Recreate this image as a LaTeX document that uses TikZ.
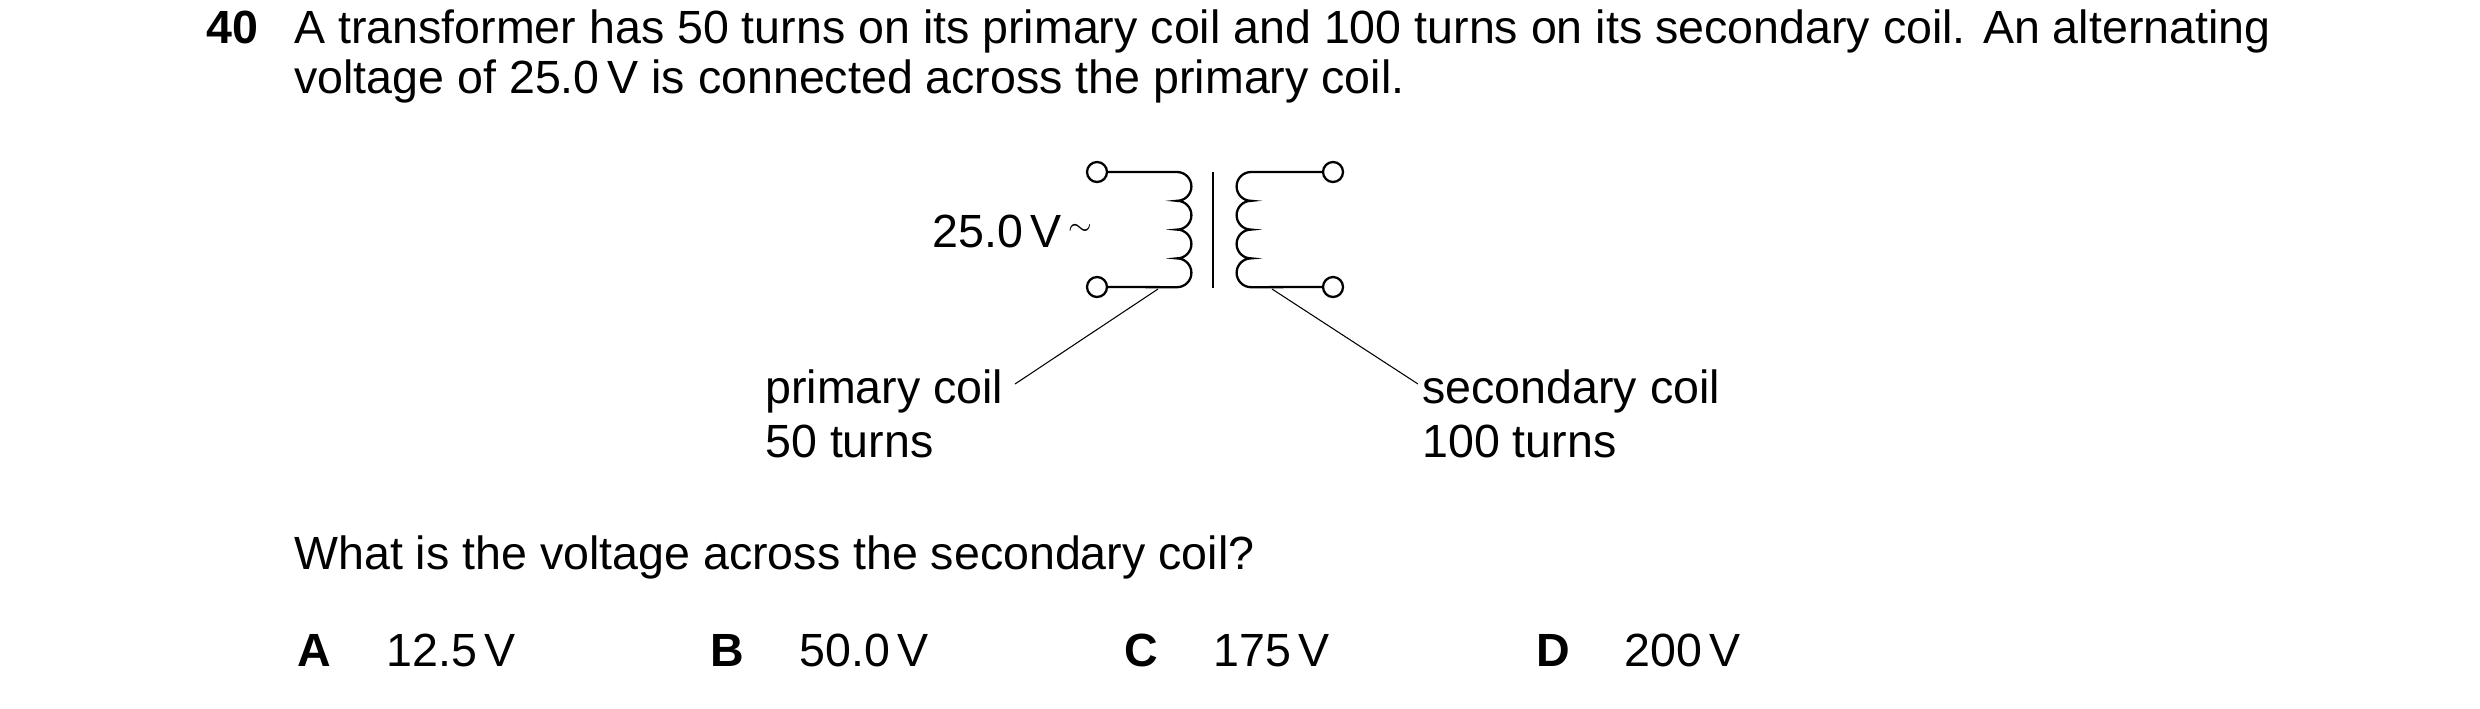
\documentclass[tikz,border=0pt]{standalone}
\usepackage{fontspec}
\setmainfont{Liberation Sans}
\usetikzlibrary{positioning}
\tikzset{
  txt/.style={anchor=base west, inner sep=0pt, font=\fontsize{26.5}{30}\selectfont},
  bold/.style={txt, font=\fontsize{26.5}{30}\selectfont\bfseries},
  term/.style={circle, draw, line width=1.3pt, fill=white, minimum size=0.4cm, inner sep=0pt},
  wire/.style={line width=1.3pt},
  lead/.style={line width=0.6pt}
}
\begin{document}
\begin{tikzpicture}[x=0.02cm, y=-0.02cm]
\useasboundingbox (0,0) rectangle (2480,708);
% question text
\node[bold] (num) at (206,43) {40};
\node[txt] (l1) at (294,43) {A transformer has 50 turns on its primary coil and 100 turns on its secondary coil. An alternating};
\node[txt] (l2) at (294,93) {voltage of 25.0\,V is connected across the primary coil.};
% transformer
\draw[wire] (1107,172) -- (1177,172) arc (90:-90:0.288cm) arc (90:-90:0.288cm) arc (90:-90:0.288cm) arc (90:-90:0.288cm) -- (1107,287);
\draw[wire] (1323,172) -- (1251,172) arc (90:270:0.288cm) arc (90:270:0.288cm) arc (90:270:0.288cm) arc (90:270:0.288cm) -- (1323,287);
\draw[wire] (1213,172) -- (1213,288);
\node[term] (p1) at (1097,172) {};
\node[term] (p2) at (1097,287) {};
\node[term] (s1) at (1333,172) {};
\node[term] (s2) at (1333,287) {};
\node[txt] (volt) at (932,247) {25.0\,V};
\node[anchor=west, inner sep=0pt, font=\LARGE] (ac) at (1068,230) {$\sim$};
\coordinate (pc) at (1158,289);
\coordinate (sc) at (1272,289);
% labels
\node[txt] (prim) at (765,403) {primary coil};
\node[txt] (primn) at (765,457) {50 turns};
\node[txt] (sec) at (1422,403) {secondary coil};
\node[txt] (secn) at (1422,457) {100 turns};
\draw[lead] (pc) -- (1015,384);
\draw[lead] (sc) -- (1418,384);
% options
\node[txt] (q) at (294,569) {What is the voltage across the secondary coil?};
\node[bold] (a) at (297,666) {A};
\node[txt] (av) at (386,666) {12.5\,V};
\node[bold] (b) at (710,666) {B};
\node[txt] (bv) at (799,666) {50.0\,V};
\node[bold] (c) at (1124,666) {C};
\node[txt] (cv) at (1213,666) {175\,V};
\node[bold] (d) at (1536,666) {D};
\node[txt] (dv) at (1624,666) {200\,V};
\end{tikzpicture}
\end{document}
